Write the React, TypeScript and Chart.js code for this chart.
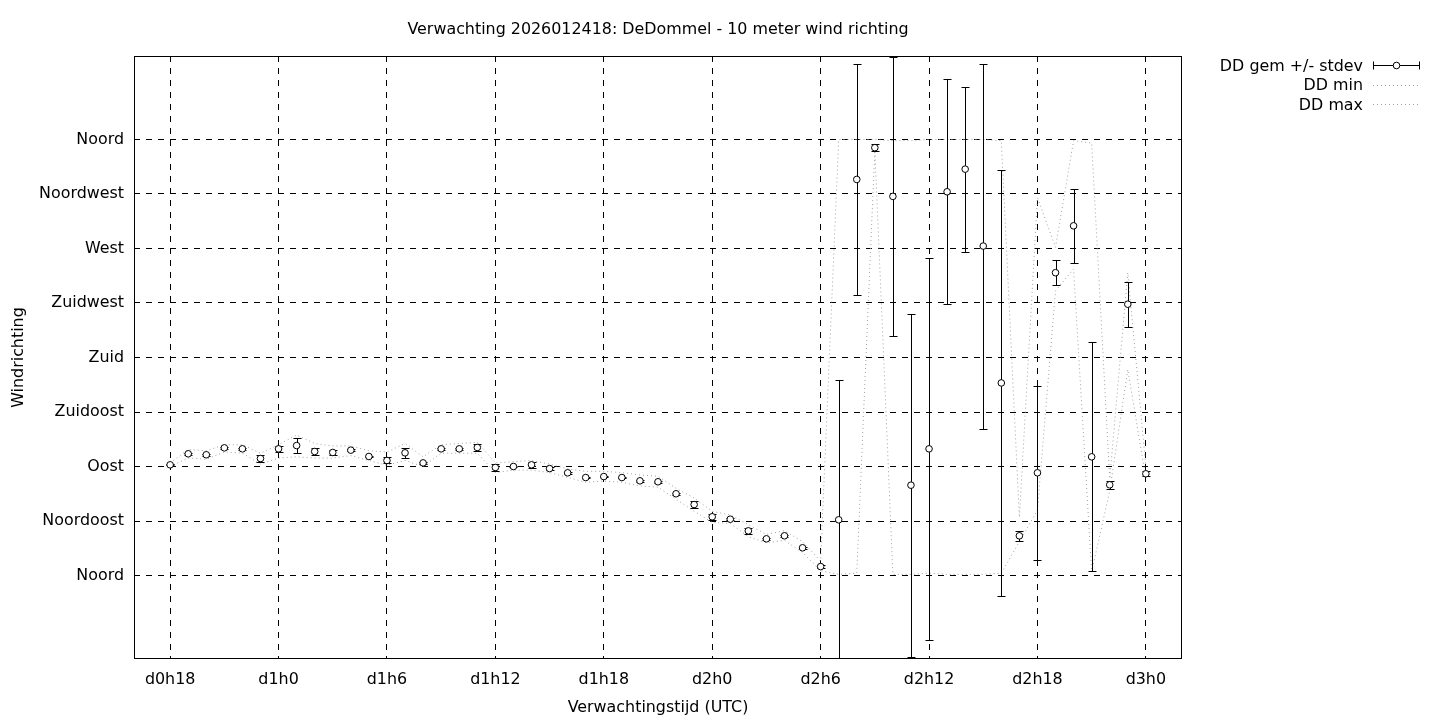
import React, { useEffect, useRef } from "react";
import { Chart, registerables } from "chart.js";

Chart.register(...registerables);

const TITLE = "Verwachting 2026012418: DeDommel - 10 meter wind richting";
const X_TITLE = "Verwachtingstijd (UTC)";
const Y_TITLE = "Windrichting";
const LEGEND_LABELS = ["DD gem +/- stdev", "DD min", "DD max"];

// forecast hours since d0h0
const hours = [
  18, 19, 20, 21, 22, 23, 24, 25, 26, 27, 28, 29, 30, 31, 32, 33, 34, 35, 36,
  37, 38, 39, 40, 41, 42, 43, 44, 45, 46, 47, 48, 49, 50, 51, 52, 53, 54,
  55, 56, 57, 58, 59, 60, 61, 62, 63, 64, 65, 66, 67, 68, 69, 70, 71, 72,
];

const ddMean = [
  91.4, 100.5, 99.7, 105.4, 104.6, 96.6, 104.6, 107.3, 102.4, 101.6, 103.5, 98.3, 95.0, 101.3, 93.0, 104.6, 104.6, 105.7, 89.2,
  90.0, 91.4, 88.3, 84.8, 80.9, 81.7, 80.9, 78.2, 77.4, 67.5, 58.6, 48.5, 46.5, 36.9, 30.3, 32.8, 22.9, 7.4,
  46.0, 327.0, 353.2, 313.0, 74.6, 104.6, 316.8, 335.5, 272.0, 159.0, 32.8, 84.8, 250.0, 288.7, 98.0, 74.9, 224.0, 84.0,
];

const ddStdev = [
  0.5, 0.6, 0.8, 0.6, 0.6, 2.5, 2.5, 6.3, 2.5, 2.2, 0.8, 0.6, 2.5, 4.4, 0.6, 0.8, 0.8, 2.5, 2.5,
  0.8, 2.3, 1.2, 0.6, 0.6, 0.6, 0.6, 0.6, 0.6, 0.6, 3.0, 2.5, 0.6, 2.5, 0.6, 0.8, 0.6, 1.5,
  115.6, 95.5, 3.0, 115.0, 141.5, 157.7, 93.0, 68.0, 150.7, 176.0, 4.0, 72.0, 10.3, 30.5, 94.5, 3.2, 18.5, 2.0,
];

const ddMin = [
  90, 97, 96, 102, 101, 92, 97, 98, 97, 97, 99, 95, 91, 95, 90, 101, 101, 101, 85,
  87, 87, 85, 81, 77, 78, 77, 74, 73, 63, 53, 44, 43, 32, 27, 29, 19, 4,
  1, 2, 351, 1, 1, 2, 1, 1, 1, 2, 28, 54, 235, 253, 3, 70, 170, 80,
];

const ddMax = [
  93, 104, 103, 108, 108, 101, 108, 116, 109, 107, 107, 103, 102, 109, 98, 108, 109, 110, 93,
  94, 95, 92, 88, 86, 86, 85, 83, 82, 72, 64, 53, 50, 42, 34, 37, 28, 12,
  360, 360, 360, 359, 359, 360, 360, 360, 360, 359, 48, 312, 271, 359, 357, 80, 250, 90,
];

const xTicks = [18, 24, 30, 36, 42, 48, 54, 60, 66, 72];
const xTickLabels = ["d0h18", "d1h0", "d1h6", "d1h12", "d1h18", "d2h0", "d2h6", "d2h12", "d2h18", "d3h0"];
const yTicks = [0, 45, 90, 135, 180, 225, 270, 315, 360];
const yTickLabels = ["Noord", "Noordoost", "Oost", "Zuidoost", "Zuid", "Zuidwest", "West", "Noordwest", "Noord"];

const X_MIN = 16;
const X_MAX = 74;
const Y_MIN = -68.9;
const Y_MAX = 428.9;

const FONT_FAMILY = "'DejaVu Sans', sans-serif";
const FONT_SIZE = 15.9;
const GRAY = "rgb(160,160,160)";
const DOT_DASH = [1, 3];

const decorPlugin = {
  id: "gnuplotDecor",
  beforeDatasetDraw(chart: any, args: any) {
    if (args.index !== 0) return;
    const { ctx, chartArea, scales } = chart;
    const xs = scales.x;
    const ys = scales.y;
    ctx.save();
    ctx.beginPath();
    ctx.rect(chartArea.left, chartArea.top, chartArea.right - chartArea.left, chartArea.bottom - chartArea.top);
    ctx.clip();
    ctx.strokeStyle = "#000";
    ctx.lineWidth = 1;
    ctx.setLineDash([]);
    hours.forEach((h, i) => {
      const x = Math.round(xs.getPixelForValue(h)) + 0.5;
      const yTop = Math.round(ys.getPixelForValue(ddMean[i] + ddStdev[i])) + 0.5;
      const yBot = Math.round(ys.getPixelForValue(ddMean[i] - ddStdev[i])) + 0.5;
      ctx.beginPath();
      ctx.moveTo(x, yTop);
      ctx.lineTo(x, yBot);
      ctx.moveTo(x - 4, yTop);
      ctx.lineTo(x + 4, yTop);
      ctx.moveTo(x - 4, yBot);
      ctx.lineTo(x + 4, yBot);
      ctx.stroke();
    });
    ctx.restore();
  },
  afterDraw(chart: any) {
    const { ctx, chartArea } = chart;
    const { left, right, top, bottom } = chartArea;
    ctx.save();
    // border box
    ctx.strokeStyle = "#000";
    ctx.lineWidth = 1;
    ctx.setLineDash([]);
    ctx.strokeRect(left + 0.5, top + 0.5, right - left - 1, bottom - top - 1);

    ctx.fillStyle = "#000";
    ctx.font = `${FONT_SIZE}px ${FONT_FAMILY}`;
    ctx.textBaseline = "middle";
    // title
    ctx.textAlign = "center";
    ctx.fillText(TITLE, (left + right) / 2, 30);
    // x title
    ctx.fillText(X_TITLE, (left + right) / 2, 708);
    // y title
    ctx.save();
    ctx.translate(19, (top + bottom) / 2);
    ctx.rotate(-Math.PI / 2);
    ctx.fillText(Y_TITLE, 0, 0);
    ctx.restore();

    // legend
    const textRight = 1363;
    const sx0 = 1373;
    const sx1 = 1420;
    const rows = [65, 84.5, 104];
    ctx.textAlign = "right";
    LEGEND_LABELS.forEach((lab, i) => {
      ctx.fillText(lab, textRight, rows[i] + 1.5);
    });
    // sample 1: errorbar with point
    const y1 = rows[0] + 0.5;
    ctx.beginPath();
    ctx.moveTo(sx0, y1);
    ctx.lineTo(sx1, y1);
    ctx.moveTo(sx0 + 0.5, y1 - 4);
    ctx.lineTo(sx0 + 0.5, y1 + 4);
    ctx.moveTo(sx1 - 0.5, y1 - 4);
    ctx.lineTo(sx1 - 0.5, y1 + 4);
    ctx.stroke();
    ctx.beginPath();
    ctx.arc((sx0 + sx1) / 2, y1, 3.3, 0, Math.PI * 2);
    ctx.fillStyle = "#fff";
    ctx.fill();
    ctx.stroke();
    // samples 2,3: dotted gray
    ctx.strokeStyle = GRAY;
    ctx.setLineDash(DOT_DASH);
    [rows[1], rows[2]].forEach((y) => {
      ctx.beginPath();
      ctx.moveTo(sx0, Math.round(y) + 0.5);
      ctx.lineTo(sx1, Math.round(y) + 0.5);
      ctx.stroke();
    });
    ctx.restore();
  },
};

export default function App() {
  const canvasRef = useRef<HTMLCanvasElement | null>(null);

  useEffect(() => {
    if (!canvasRef.current) return;
    const meanData = hours.map((h, i) => ({ x: h, y: ddMean[i] }));
    const minData = hours.map((h, i) => ({ x: h, y: ddMin[i] }));
    const maxData = hours.map((h, i) => ({ x: h, y: ddMax[i] }));

    const tickFont = { family: FONT_FAMILY, size: FONT_SIZE };

    const chart = new Chart(canvasRef.current, {
      type: "scatter",
      data: {
        datasets: [
          {
            label: LEGEND_LABELS[0],
            data: meanData,
            showLine: false,
            pointRadius: 3.3,
            pointBorderWidth: 1,
            pointBorderColor: "#000",
            pointBackgroundColor: "#fff",
            pointHoverRadius: 3.3,
          },
          {
            label: LEGEND_LABELS[1],
            data: minData,
            showLine: true,
            pointRadius: 0,
            borderColor: GRAY,
            borderWidth: 1,
            borderDash: DOT_DASH,
            tension: 0,
          },
          {
            label: LEGEND_LABELS[2],
            data: maxData,
            showLine: true,
            pointRadius: 0,
            borderColor: GRAY,
            borderWidth: 1,
            borderDash: DOT_DASH,
            tension: 0,
          },
        ],
      },
      plugins: [decorPlugin],
      options: {
        animation: false,
        responsive: true,
        maintainAspectRatio: false,
        layout: { padding: { top: 56, right: 258, bottom: 0, left: 0 } },
        plugins: {
          legend: { display: false },
          title: { display: false },
          tooltip: { enabled: false },
        },
        events: [],
        scales: {
          x: {
            type: "linear",
            min: X_MIN,
            max: X_MAX,
            afterBuildTicks: (scale: any) => {
              scale.ticks = xTicks.map((v) => ({ value: v }));
            },
            afterFit: (scale: any) => {
              scale.height = 61;
            },
            ticks: {
              autoSkip: false,
              maxRotation: 0,
              minRotation: 0,
              padding: 11,
              color: "#000",
              font: tickFont,
              callback: (v: any) => {
                const idx = xTicks.indexOf(Number(v));
                return idx >= 0 ? xTickLabels[idx] : "";
              },
            },
            grid: {
              color: "#000",
              lineWidth: 1,
              drawTicks: false,
            },
            border: { display: false, dash: [6, 6] },
          },
          y: {
            type: "linear",
            min: Y_MIN,
            max: Y_MAX,
            afterBuildTicks: (scale: any) => {
              scale.ticks = yTicks.map((v) => ({ value: v }));
            },
            afterFit: (scale: any) => {
              scale.width = 134;
            },
            ticks: {
              autoSkip: false,
              padding: 10,
              color: "#000",
              font: tickFont,
              callback: (v: any) => {
                const idx = yTicks.indexOf(Number(v));
                return idx >= 0 ? yTickLabels[idx] : "";
              },
            },
            grid: {
              color: "#000",
              lineWidth: 1,
              drawTicks: false,
            },
            border: { display: false, dash: [6, 6] },
          },
        },
      },
    } as any);

    return () => {
      chart.destroy();
    };
  }, []);

  return (
    <div
      style={{
        position: "fixed",
        left: 0,
        top: 0,
        width: 1440,
        height: 720,
        background: "#fff",
      }}
    >
      <canvas ref={canvasRef} />
    </div>
  );
}
